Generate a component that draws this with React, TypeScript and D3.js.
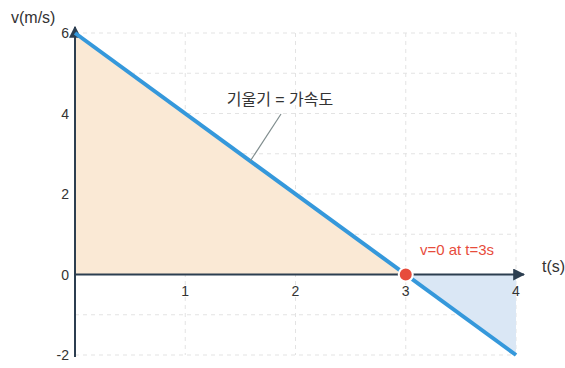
import React from "react";
import * as d3 from "d3";

const lineT = [0, 4];
const lineV = [6, -2];
const xTicks = [1, 2, 3, 4];
const yTicks = [-2, 0, 2, 4, 6];
const gridV = [-2, -1, 1, 2, 3, 4, 5, 6];
const gridT = [1, 2, 3, 4];
const zeroT = 3;
const slopeLabel = "기울기 = 가속도";
const zeroLabel = "v=0 at t=3s";

export default function App() {
  const W = 565, H = 368;
  const x = d3.scaleLinear().domain([0, 4]).range([75, 516]);
  const y = d3.scaleLinear().domain([-2, 6]).range([355, 33]);
  const vAt = (t: number) => lineV[0] + ((lineV[1] - lineV[0]) * (t - lineT[0])) / (lineT[1] - lineT[0]);
  const font = "'Helvetica Neue', Arial, 'Liberation Sans', 'Noto Sans CJK KR', sans-serif";
  const area = d3.area<number>().x((t) => x(t)).y0(y(0)).y1((t) => y(vAt(t)));
  const line = d3.line<number>().x((t) => x(t)).y((t) => y(vAt(t)));
  const axisColor = "#2c3e50";
  const leaderT = 1.59;
  return (
    <svg width={W} height={H} style={{ position: "absolute", left: 0, top: 0 }} fontFamily={font}>
      <defs>
        <marker id="arr" viewBox="0 0 10 10" refX="9" refY="5" markerWidth="6" markerHeight="6" orient="auto">
          <path d="M0,0 L10,5 L0,10 z" fill={axisColor} />
        </marker>
      </defs>
      {gridV.map((v) => (
        <line key={"gv" + v} x1={x(0)} x2={x(4)} y1={y(v)} y2={y(v)} stroke="#e3e3e3" strokeDasharray="4,4" />
      ))}
      {gridT.map((t) => (
        <line key={"gt" + t} x1={x(t)} x2={x(t)} y1={y(6)} y2={y(-2)} stroke="#e3e3e3" strokeDasharray="4,4" />
      ))}
      <path d={area([0, zeroT]) || ""} fill="#fae9d5" />
      <path d={area([zeroT, 4]) || ""} fill="#dae7f5" />
      <line x1={x(0)} x2={x(4) + 8} y1={y(0)} y2={y(0)} stroke={axisColor} strokeWidth={2} markerEnd="url(#arr)" />
      <line x1={x(0)} x2={x(0)} y1={y(-2) + 2} y2={y(6) - 6} stroke={axisColor} strokeWidth={2} markerEnd="url(#arr)" />
      <path d={line(lineT) || ""} fill="none" stroke="#3598db" strokeWidth={4} />
      <circle cx={x(zeroT)} cy={y(0)} r={7} fill="#e74c3c" stroke="#fff" strokeWidth={2} />
      {xTicks.map((t) => (
        <text key={"xt" + t} x={x(t)} y={y(0) + 21} textAnchor="middle" fontSize={14} fill="#333">{t}</text>
      ))}
      {yTicks.map((v) => (
        <text key={"yt" + v} x={x(0) - 6} y={y(v) + 5} textAnchor="end" fontSize={14} fill="#333">{v}</text>
      ))}
      <text x={11} y={23} fontSize={16} fill="#333">v(m/s)</text>
      <text x={542} y={272} fontSize={16} fill="#333">t(s)</text>
      <text x={457} y={255} textAnchor="middle" fontSize={15} fill="#e74c3c">{zeroLabel}</text>
      <line x1={x(leaderT)} y1={y(vAt(leaderT))} x2={281} y2={114} stroke="#7f8c8d" strokeWidth={1.2} />
      <text x={280} y={105} textAnchor="middle" fontSize={16} fill="#333">{slopeLabel}</text>
    </svg>
  );
}
